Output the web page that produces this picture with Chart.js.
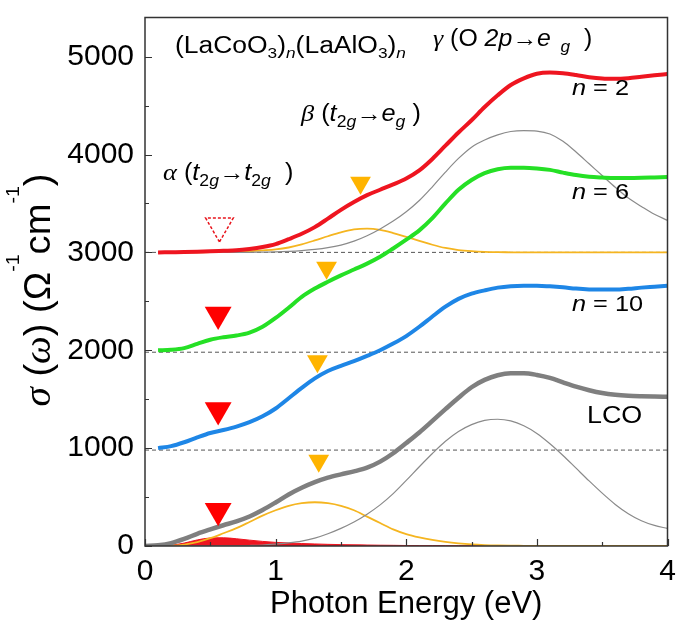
<!DOCTYPE html>
<html>
<head>
<meta charset="utf-8">
<script src="https://cdn.jsdelivr.net/npm/chart.js@4.4.1/dist/chart.umd.min.js"></script>
<style>
  html,body{margin:0;padding:0;background:#fff}
  #wrap{width:685px;height:637px}
</style>
</head>
<body>
<div id="wrap"><canvas id="cv" width="685" height="637"></canvas></div>
<script>
/* ---------- datos ---------- */
const energy = [0,0.1,0.2,0.3,0.4,0.5,0.6,0.7,0.8,0.9,1,1.1,1.2,1.3,1.4,1.5,1.6,1.7,1.8,1.9,2,
                2.1,2.2,2.3,2.4,2.5,2.6,2.7,2.8,2.9,3,3.1,3.2,3.3,3.4,3.5,3.6,3.7,3.8,3.9,4];

const sigN2  = [null,3000,3002,3004,3007,3011,3016,3021,3035,3055,3085,3135,3190,3258,3345,3435,3515,3585,3640,3695,3755,
                3838,3955,4090,4225,4350,4485,4605,4710,4778,4825,4837,4830,4812,4790,4776,4773,4780,4795,4810,4823];
const sigN6  = [null,2000,2005,2022,2065,2108,2133,2150,2180,2240,2330,2435,2545,2630,2700,2765,2825,2885,2955,3040,3130,
                3225,3350,3500,3640,3740,3810,3850,3865,3865,3858,3843,3815,3790,3773,3765,3760,3760,3762,3766,3770];
const sigN10 = [null,1000,1020,1060,1110,1155,1185,1220,1265,1325,1405,1510,1615,1712,1788,1840,1888,1942,2000,2068,2145,
                2240,2345,2445,2525,2578,2612,2640,2655,2660,2660,2653,2643,2630,2622,2620,2620,2628,2640,2650,2660];
const sigLCO = [0,8,30,72,125,170,212,252,302,368,445,527,595,652,698,732,762,800,862,948,1052,
                1160,1278,1398,1515,1622,1697,1745,1765,1765,1748,1718,1672,1628,1592,1563,1545,1535,1530,1527,1525];

// componentes de LCO
const lcoAlpha = [0,0,8,30,62,82,84,74,60,47,37,31,25,21,17,14,12,10,8,7,5,
                  4,4,3,3,2,2,1,1,1,0,0,0,0,0,0,0,0,0,0,0];
const lcoBeta  = [0,0,3,15,40,80,130,182,245,310,365,410,437,447,437,410,365,300,235,170,122,
                  88,62,42,27,16,9,5,3,2,1,0,0,0,0,0,0,0,0,0,0];
const lcoGamma = [0,0,0,0,0,0,1,2,5,10,20,32,50,80,125,180,245,325,420,535,670,
                  810,945,1070,1170,1240,1283,1295,1278,1228,1150,1045,925,795,665,540,425,330,258,210,180];
// componentes de n = 2 (desplazadas +3000)
const n2Beta   = [null,3000,3000,3000,3001,3002,3004,3008,3012,3020,3030,3050,3082,3122,3165,3205,3235,3243,3230,3198,3158,
                  3118,3078,3045,3024,3012,3005,3002,3001,3000,3000,3000,3000,3000,3000,3000,3000,3000,3000,3000,3000];
const n2Gamma  = [null,3000,3000,3000,3000,3000,3000,3000,3001,3003,3005,3010,3018,3030,3048,3075,3115,3170,3240,3320,3415,
                  3530,3670,3820,3960,4075,4148,4200,4235,4245,4240,4210,4135,4025,3905,3785,3665,3555,3470,3390,3327];

const refLevels = [980, 1980, 3000];           // líneas base punteadas
const alphaX = [0.56, 0.56, 0.56], alphaY = [360, 1390, 2365];
const alphaOpenX = [0.57], alphaOpenY = [3270];
const betaX = [1.33, 1.32, 1.39, 1.65], betaY = [871, 1888, 2844, 3711];

const xTicks = [0,1,2,3,4], xMinor = [0.5,1.5,2.5,3.5];
const yTicks = [0,1000,2000,3000,4000,5000], yMinor = [500,1500,2500,3500,4500];

/* ---------- estilos ---------- */
const SANS = '"Liberation Sans", Arial, sans-serif';
const f = (s, st) => (st ? st + ' ' : '') + s + 'px ' + SANS;
const gr = s => 'italic ' + s + 'px "Liberation Serif", serif';

const pts = ys => energy.map((x,i) => ({x, y: ys[i]}));
const curve = (label, ys, color, w, extra) => Object.assign({
  label, data: pts(ys), borderColor: color, backgroundColor: color, borderWidth: w,
  pointRadius: 0, fill: false, cubicInterpolationMode: 'monotone'
}, extra || {});
const marks = (label, xs, ys, color, r, extra) => Object.assign({
  label, data: xs.map((x,i) => ({x, y: ys[i]})), showLine: false,
  pointStyle: 'triangle', rotation: 180, pointRadius: r, pointBackgroundColor: color,
  pointBorderWidth: 0, pointBorderColor: color
}, extra || {});

const datasets = [
  marks('beta', betaX, betaY, '#ffb400', 12),
  marks('alpha', alphaX, alphaY, '#ff0000', 15.5),
  marks('alpha n2', alphaOpenX, alphaOpenY, '#ffffff', 16,
        {pointBorderWidth: 1.5, pointBorderColor: '#e8141c', dashedMarker: true}),
  curve('n = 2', sigN2, '#ee1520', 4),
  curve('n = 6', sigN6, '#25e025', 4),
  curve('n = 10', sigN10, '#1e86e6', 4),
  curve('LCO', sigLCO, '#7f7f7f', 4.5),
  curve('n2 gamma', n2Gamma, '#8a8a8a', 1.2),
  curve('n2 beta', n2Beta, '#f5b520', 1.8),
  curve('LCO gamma', lcoGamma, '#8a8a8a', 1.2),
  curve('LCO beta', lcoBeta, '#f5b520', 1.8),
  curve('LCO alpha', lcoAlpha, '#ee1520', 1, {fill: 'origin', backgroundColor: '#ee1520'}),
  ...refLevels.map(v => ({label: 'ref', data: [{x:0,y:v},{x:4,y:v}], borderColor: '#555',
    borderWidth: 1, borderDash: [4,3], pointRadius: 0, fill: false}))
];

/* ---------- texto enriquecido (sub/superíndices) ---------- */
function rich(ctx, x, y, parts, sx, align){
  ctx.save();
  ctx.translate(x, y); ctx.scale(sx, 1);
  ctx.textBaseline = 'alphabetic'; ctx.textAlign = 'left'; ctx.fillStyle = '#000';
  let w = 0;
  parts.forEach(p => { ctx.font = p[1]; w += ctx.measureText(p[0]).width; });
  let cx = align === 'center' ? -w/2 : 0;
  parts.forEach(p => { ctx.font = p[1]; ctx.fillText(p[0], cx, p[2] || 0); cx += ctx.measureText(p[0]).width; });
  ctx.restore();
}

const decor = {
  id: 'decor',
  beforeDatasetDraw(chart, args){
    if (chart.data.datasets[args.index].dashedMarker){ chart.ctx.save(); chart.ctx.setLineDash([3,2]); }
  },
  afterDatasetDraw(chart, args){
    if (chart.data.datasets[args.index].dashedMarker) chart.ctx.restore();
  },
  afterDraw(chart){
    const ctx = chart.ctx, a = chart.chartArea, sx = chart.scales.x, sy = chart.scales.y;
    ctx.save();
    ctx.strokeStyle = '#333'; ctx.lineWidth = 1.5;
    ctx.strokeRect(a.left, a.top, a.right - a.left, a.bottom - a.top);
    ctx.lineWidth = 1.2;
    ctx.beginPath();
    yTicks.forEach(v => { const p = Math.round(sy.getPixelForValue(v)) + .5; ctx.moveTo(a.left, p); ctx.lineTo(a.left + 7, p); });
    yMinor.forEach(v => { const p = Math.round(sy.getPixelForValue(v)) + .5; ctx.moveTo(a.left, p); ctx.lineTo(a.left + 4, p); });
    xTicks.forEach(v => { const p = Math.round(sx.getPixelForValue(v)) + .5; ctx.moveTo(p, a.bottom); ctx.lineTo(p, a.bottom - 7); });
    xMinor.forEach(v => { const p = Math.round(sx.getPixelForValue(v)) + .5; ctx.moveTo(p, a.bottom); ctx.lineTo(p, a.bottom - 4); });
    ctx.stroke();
    ctx.restore();

    rich(ctx, 175, 53, [['(LaCoO', f(23)], ['3', f(15), 5], [')', f(23)], ['n', f(15,'italic'), 5],
                        ['(LaAlO', f(23)], ['3', f(15), 5], [')', f(23)], ['n', f(15,'italic'), 5]], 1.15);
    rich(ctx, 433, 46, [['γ', gr(24)], [' (O ', f(23)], ['2p', f(23,'italic')], ['→', f(23)],
                        ['e', f(23,'italic')], ['  g', f(16,'italic'), 6], ['  )', f(23)]], 1.08);
    rich(ctx, 301, 121, [['β', gr(24)], [' (', f(23)], ['t', f(23,'italic')], ['2', f(16), 6], ['g', f(16,'italic'), 6],
                         ['→', f(23)], ['e', f(23,'italic')], ['g', f(16,'italic'), 6], [' )', f(23)]], 1.1);
    rich(ctx, 163, 180, [['α', gr(24)], [' (', f(23)], ['t', f(23,'italic')], ['2', f(16), 6], ['g', f(16,'italic'), 6],
                         ['→', f(23)], ['t', f(23,'italic')], ['2', f(16), 6], ['g', f(16,'italic'), 6], ['  )', f(23)]], 1.1);
    rich(ctx, 572, 95,  [['n', f(22,'italic')], [' = 2', f(22)]], 1.15);
    rich(ctx, 572, 199, [['n', f(22,'italic')], [' = 6', f(22)]], 1.15);
    rich(ctx, 572, 311, [['n', f(22,'italic')], [' = 10', f(22)]], 1.15);
    rich(ctx, 587, 423, [['LCO', f(24)]], 1.12);

    // título eje Y, girado
    ctx.save();
    ctx.translate(50, 290); ctx.rotate(-Math.PI/2);
    rich(ctx, 0, 0, [['σ', gr(38)], [' (', f(37)], ['ω', gr(38)], [')', f(37)], [' (', f(37)], ['Ω', f(37)],
                     ['-1', f(19), -31], ['cm', f(37)], ['-1', f(19), -31], [')', f(37)]], 1.03, 'center');
    ctx.restore();
  }
};

new Chart(document.getElementById('cv'), {
  type: 'line',
  data: {datasets},
  options: {
    responsive: false, animation: false, devicePixelRatio: 1,
    layout: {padding: {left: 0, right: 13, top: 6, bottom: 0}},
    plugins: {legend: {display: false}, tooltip: {enabled: false}},
    scales: {
      x: {
        type: 'linear', min: 0, max: 4,
        afterBuildTicks: s => { s.ticks = xTicks.map(v => ({value: v})); },
        afterFit: s => { s.height = 91; s.paddingLeft = 0; s.paddingRight = 0; },
        grid: {display: false}, border: {display: false},
        ticks: {color: '#000', font: {family: SANS, size: 30}, padding: 0, maxRotation: 0, autoSkip: false,
                callback: v => String(v)},
        title: {display: true, text: 'Photon Energy (eV)', color: '#000',
                font: {family: SANS, size: 31}, padding: {top: 0, bottom: 14}}
      },
      y: {
        type: 'linear', min: 0, max: 5400,
        afterBuildTicks: s => { s.ticks = yTicks.map(v => ({value: v})); },
        afterFit: s => { s.width = 145; s.paddingTop = 0; s.paddingBottom = 0; },
        grid: {display: false}, border: {display: false},
        ticks: {color: '#000', font: {family: SANS, size: 30}, padding: 3, autoSkip: false,
                callback: v => String(v)}
      }
    }
  },
  plugins: [decor]
});
</script>
</body>
</html>
